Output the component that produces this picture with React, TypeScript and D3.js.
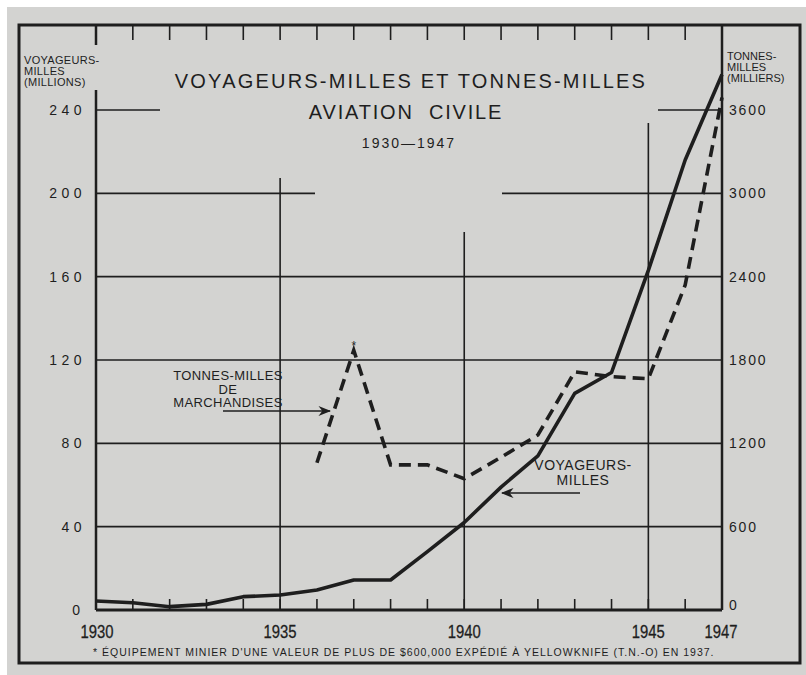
import React, { useEffect, useRef } from "react";
import * as d3 from "d3";

// Voyageurs-milles (millions), 1930-1947
const passengerYears = [1930, 1931, 1932, 1933, 1934, 1935, 1936, 1937, 1938, 1939, 1940, 1941, 1942, 1943, 1944, 1945, 1946, 1947];
const passengerMiles = [4.3, 3.5, 1.6, 2.7, 6.4, 7.2, 9.6, 14.4, 14.4, 28, 42, 59, 74, 104, 114, 163, 216, 257];

// Tonnes-milles de marchandises (milliers), 1936-1947
const freightYears = [1936, 1937, 1938, 1939, 1940, 1941, 1942, 1943, 1944, 1945, 1946, 1947];
const freightTonMiles = [1060, 1870, 1045, 1045, 945, 1100, 1260, 1715, 1680, 1665, 2340, 3690];

const leftTicks = [0, 40, 80, 120, 160, 200, 240];
const rightTicks = [0, 600, 1200, 1800, 2400, 3000, 3600];
const yearLabels = [1930, 1935, 1940, 1945, 1947];

const ink = "#1e1e1e";
const paper = "#d3d3d1";
const font = "'Liberation Sans', 'DejaVu Sans', sans-serif";

const drawChart = (el: SVGSVGElement) => {
  const svg = d3.select(el);
  svg.selectAll("*").remove();

  const width = 806;
  const height = 675;
  const left = 96;
  const right = 722;
  const bottom = 610;
  const top = 110;

  const x = d3.scaleLinear().domain([1930, 1947]).range([left, right]);
  const y = d3.scaleLinear().domain([0, 240]).range([bottom, top]);
  const y2 = d3.scaleLinear().domain([0, 3600]).range([bottom, top]);

  // paper
  svg.append("rect").attr("width", width).attr("height", height).attr("fill", "#fff");
  svg.append("rect").attr("x", 7).attr("y", 7).attr("width", width - 7).attr("height", height - 7).attr("fill", paper);

  // frame
  svg.append("rect")
    .attr("x", 19).attr("y", 25).attr("width", 781).attr("height", 638)
    .attr("fill", "none").attr("stroke", ink).attr("stroke-width", 3);

  const g = svg.append("g").attr("stroke", ink).attr("fill", "none");

  // horizontal grid
  [40, 80, 120, 160].forEach((v) => {
    g.append("line").attr("x1", left).attr("x2", right).attr("y1", y(v)).attr("y2", y(v)).attr("stroke-width", 1.6);
  });
  // partial lines at 200 and 240 (title area)
  g.append("line").attr("x1", left).attr("x2", 315).attr("y1", y(200)).attr("y2", y(200)).attr("stroke-width", 1.6);
  g.append("line").attr("x1", 502).attr("x2", right).attr("y1", y(200)).attr("y2", y(200)).attr("stroke-width", 1.6);
  g.append("line").attr("x1", left).attr("x2", 160).attr("y1", y(240)).attr("y2", y(240)).attr("stroke-width", 1.6);
  g.append("line").attr("x1", 658).attr("x2", right).attr("y1", y(240)).attr("y2", y(240)).attr("stroke-width", 1.6);

  // vertical grid
  const vTops: [number, number][] = [[1935, 178], [1940, 232], [1945, 123]];
  vTops.forEach(([yr, t]) => {
    g.append("line").attr("x1", x(yr)).attr("x2", x(yr)).attr("y1", t).attr("y2", bottom).attr("stroke-width", 1.6);
  });

  // axes
  g.append("line").attr("x1", left).attr("x2", left).attr("y1", 90).attr("y2", bottom).attr("stroke-width", 2.5);
  g.append("line").attr("x1", left).attr("x2", left).attr("y1", 25).attr("y2", 45).attr("stroke-width", 2.5);
  g.append("line").attr("x1", right).attr("x2", right).attr("y1", 25).attr("y2", bottom).attr("stroke-width", 2.5);
  g.append("line").attr("x1", left).attr("x2", right).attr("y1", bottom).attr("y2", bottom).attr("stroke-width", 2.8);

  // year ticks, bottom and top
  d3.range(1931, 1947).forEach((yr) => {
    g.append("line").attr("x1", x(yr)).attr("x2", x(yr)).attr("y1", bottom).attr("y2", bottom - 11).attr("stroke-width", 1.6);
    g.append("line").attr("x1", x(yr)).attr("x2", x(yr)).attr("y1", 25).attr("y2", 40).attr("stroke-width", 1.6);
  });

  // lines
  const line = d3.line<[number, number]>().x((d) => d[0]).y((d) => d[1]);
  g.append("path")
    .attr("d", line(passengerYears.map((yr, i) => [x(yr), y(passengerMiles[i])])))
    .attr("stroke-width", 3.6).attr("stroke-linejoin", "round");
  g.append("path")
    .attr("d", line(freightYears.map((yr, i) => [x(yr), y2(freightTonMiles[i])])))
    .attr("stroke-width", 3.6).attr("stroke-dasharray", "12 7");

  // annotation arrows
  svg.append("defs").append("marker")
    .attr("id", "arrow").attr("viewBox", "0 0 10 10").attr("refX", 9).attr("refY", 5)
    .attr("markerWidth", 8).attr("markerHeight", 8).attr("orient", "auto-start-reverse")
    .append("path").attr("d", "M0,1 L10,5 L0,9 L3,5 Z").attr("fill", ink);
  g.append("line").attr("x1", 223).attr("x2", 330).attr("y1", 411).attr("y2", 411)
    .attr("stroke-width", 1.6).attr("marker-end", "url(#arrow)");
  g.append("line").attr("x1", 580).attr("x2", 502).attr("y1", 493).attr("y2", 493)
    .attr("stroke-width", 1.6).attr("marker-end", "url(#arrow)");

  const txt = svg.append("g").attr("fill", ink).attr("font-family", font);

  // left tick labels
  leftTicks.forEach((v) => {
    txt.append("text").attr("x", v === 0 ? 80 : 86).attr("y", y(v) + 5)
      .attr("text-anchor", "end").attr("font-size", 14).attr("letter-spacing", v === 0 ? 0 : 4.5)
      .text(v);
  });
  // right tick labels
  rightTicks.forEach((v) => {
    txt.append("text").attr("x", 729).attr("y", y2(v) + (v === 0 ? 0 : 5))
      .attr("font-size", 14).attr("letter-spacing", 1.8).text(v);
  });
  // year labels (condensed)
  yearLabels.forEach((yr) => {
    const cx = yr === 1930 ? 97 : yr === 1947 ? 721 : x(yr);
    txt.append("text").attr("x", cx - 16.5).attr("y", 638)
      .attr("font-size", 19).attr("textLength", 33).attr("lengthAdjust", "spacingAndGlyphs")
      .attr("stroke", ink).attr("stroke-width", 0.3)
      .text(yr);
  });

  // axis titles
  const leftTitle = ["VOYAGEURS-", "MILLES", "(MILLIONS)"];
  leftTitle.forEach((s, i) => {
    txt.append("text").attr("x", 24).attr("y", 64 + i * 11).attr("font-size", 11).attr("letter-spacing", 0.3).text(s);
  });
  const rightTitle = ["TONNES-", "MILLES", "(MILLIERS)"];
  rightTitle.forEach((s, i) => {
    txt.append("text").attr("x", 727).attr("y", 60 + i * 11).attr("font-size", 11).text(s);
  });

  // title
  txt.append("text").attr("x", 411).attr("y", 88).attr("text-anchor", "middle")
    .attr("font-size", 20).attr("letter-spacing", 2.2).text("VOYAGEURS-MILLES ET TONNES-MILLES");
  txt.append("text").attr("x", 406).attr("y", 119).attr("text-anchor", "middle")
    .attr("font-size", 20).attr("letter-spacing", 1.8).attr("word-spacing", 8).text("AVIATION CIVILE");
  txt.append("text").attr("x", 409).attr("y", 148).attr("text-anchor", "middle")
    .attr("font-size", 14).attr("letter-spacing", 2).text("1930—1947");

  // series labels
  ["TONNES-MILLES", "DE", "MARCHANDISES"].forEach((s, i) => {
    txt.append("text").attr("x", 228).attr("y", 380 + i * 13.5).attr("text-anchor", "middle")
      .attr("font-size", 13).attr("letter-spacing", 0.4).text(s);
  });
  ["VOYAGEURS-", "MILLES"].forEach((s, i) => {
    txt.append("text").attr("x", 583).attr("y", 470 + i * 15).attr("text-anchor", "middle")
      .attr("font-size", 14).attr("letter-spacing", 0.5).text(s);
  });
  txt.append("text").attr("x", x(1937)).attr("y", 350).attr("text-anchor", "middle")
    .attr("font-size", 12).text("*");

  // footnote
  txt.append("text").attr("x", 93).attr("y", 656).attr("font-size", 10.5).attr("letter-spacing", 1)
    .text("* ÉQUIPEMENT MINIER D'UNE VALEUR DE PLUS DE $600,000 EXPÉDIÉ À YELLOWKNIFE (T.N.-O) EN 1937.");
};

export default function App() {
  const ref = useRef<SVGSVGElement>(null);
  useEffect(() => {
    if (ref.current) drawChart(ref.current);
  }, []);
  return (
    <svg
      ref={ref}
      width={806}
      height={675}
      style={{ position: "absolute", top: 0, left: 0, display: "block" }}
    />
  );
}
